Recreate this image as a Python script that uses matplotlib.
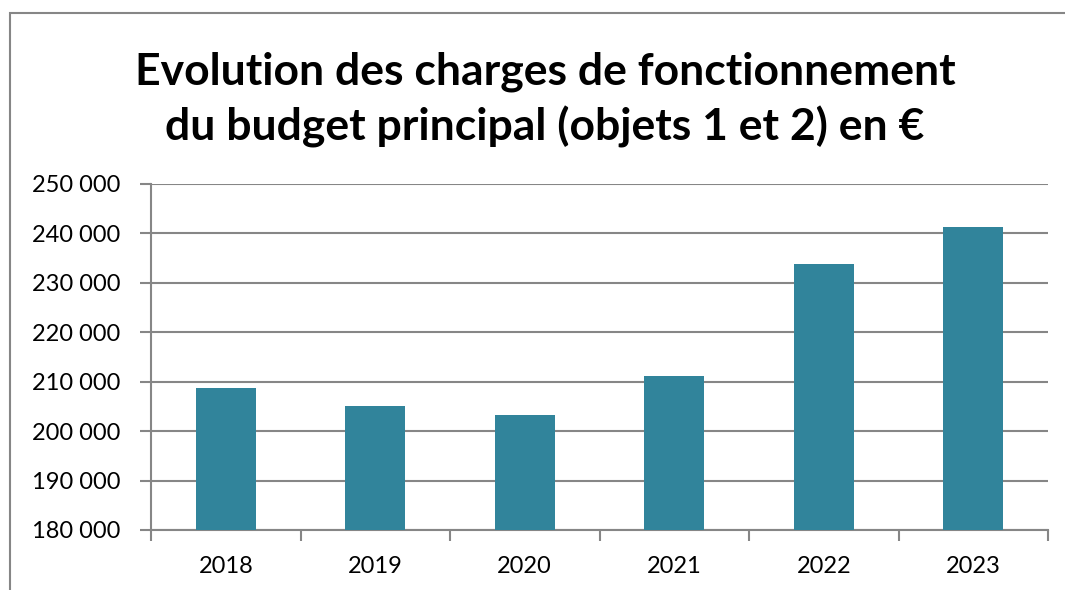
import matplotlib.pyplot as plt
from matplotlib.patches import Rectangle

# data
years = ["2018", "2019", "2020", "2021", "2022", "2023"]
charges = [208800, 205000, 203300, 211200, 233900, 241200]
yticks = [180000, 190000, 200000, 210000, 220000, 230000, 240000, 250000]

plt.rcParams['font.family'] = ['Lato', 'DejaVu Sans']

fig = plt.figure(figsize=(10.65, 5.9), dpi=100)
ax = fig.add_axes([151/1065, 60/590, (1048-151)/1065, (530-184)/590])

x = list(range(len(years)))
ax.bar(x, charges, width=0.4, color="#31849B", zorder=3)

ax.set_xlim(-0.5, len(years) - 0.5)
ax.set_ylim(180000, 250000)
ax.set_yticks(yticks)
ax.set_yticklabels([f"{v:,}".replace(",", " ") for v in yticks])
ax.set_xticks(x)
ax.set_xticklabels(years)
# category boundary ticks
ax.set_xticks([i - 0.5 for i in range(len(years) + 1)], minor=True)
ax.tick_params(axis="x", which="major", length=0, pad=19, labelsize=17)
ax.tick_params(axis="x", which="minor", length=8, width=1.5, color="#868686")
ax.tick_params(axis="y", length=8, width=1.5, color="#868686", labelsize=17, pad=14)

ax.grid(axis="y", color="#868686", linewidth=1.5, zorder=0)
for s in ["top", "right"]:
    ax.spines[s].set_visible(False)
for s in ["left", "bottom"]:
    ax.spines[s].set_color("#868686")
    ax.spines[s].set_linewidth(1.5)

fig.text(545/1065, 1 - 100/590, "Evolution des charges de fonctionnement\ndu budget principal (objets 1 et 2) en €",
         ha="center", va="center", fontsize=32, fontweight="bold", linespacing=1.4)

# chart frame
fig.patches.append(Rectangle((10/1065, -0.1), 1.2, 1.1 - 13/590, transform=fig.transFigure,
                             fill=False, edgecolor="#868686", linewidth=1.5))

fig.savefig("out.png", dpi=100)
